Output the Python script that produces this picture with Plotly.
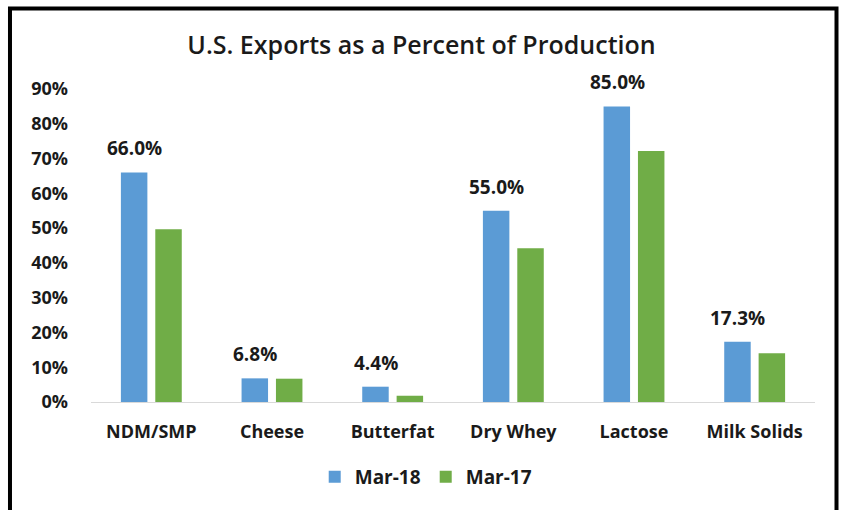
import plotly.graph_objects as go

categories = ["NDM/SMP", "Cheese", "Butterfat", "Dry Whey", "Lactose", "Milk Solids"]
mar18 = [0.660, 0.068, 0.044, 0.550, 0.850, 0.173]
mar17 = [0.497, 0.067, 0.018, 0.442, 0.722, 0.140]
y_ticks = [0, 0.1, 0.2, 0.3, 0.4, 0.5, 0.6, 0.7, 0.8, 0.9]
y_labels = ["0%", "10%", "20%", "30%", "40%", "50%", "60%", "70%", "80%", "90%"]

FONT = "Open Sans"
BLUE = "#5B9BD5"
GREEN = "#70AD47"
TXT = "#1a1a1a"

fig = go.Figure()
fig.add_trace(go.Bar(name="Mar-18", x=categories, y=mar18, marker_color=BLUE,
                     marker_line_width=0))
fig.add_trace(go.Bar(name="Mar-17", x=categories, y=mar17, marker_color=GREEN,
                     marker_line_width=0))

for c, v in zip(categories, mar18):
    fig.add_annotation(x=c, y=v, text=f"{v*100:.1f}%", showarrow=False,
                       xshift=-17, yshift=9, yanchor="bottom",
                       font=dict(family=FONT, size=19, color=TXT, weight="bold"))

# outer frame
fig.add_shape(type="rect", xref="paper", yref="paper",
              x0=-0.1119, x1=1.0297, y0=-0.40, y1=1.257,
              line=dict(color="black", width=4), layer="above")

fig.update_layout(
    width=843, height=510,
    margin=dict(l=91, r=28, t=89, b=108),
    paper_bgcolor="white", plot_bgcolor="white",
    barmode="group", bargap=0.43, bargroupgap=0.23,
    title=dict(text="U.S. Exports as a Percent of Production",
               x=0.5, xref="container", xanchor="center",
               y=1 - 45/510, yref="container", yanchor="middle",
               font=dict(family=FONT, size=25, color=TXT, weight=600)),
    xaxis=dict(showgrid=False, showline=True, linecolor="#d9d9d9", linewidth=1,
               ticks="", ticklabelstandoff=13,
               tickfont=dict(family=FONT, size=18, color=TXT, weight="bold")),
    yaxis=dict(range=[0, 0.9], showgrid=False, zeroline=False, showline=False,
               tickmode="array", tickvals=y_ticks, ticktext=y_labels,
               ticks="", ticklabelstandoff=22,
               tickfont=dict(family=FONT, size=18, color=TXT, weight="bold")),
    legend=dict(orientation="h", x=0.505, xanchor="center", xref="container",
                y=1 - 477/510, yref="container", yanchor="middle",
                font=dict(family=FONT, size=19, color=TXT, weight="bold"),
                itemwidth=30, traceorder="normal"),
    showlegend=True,
)

fig.write_html("out.html")
